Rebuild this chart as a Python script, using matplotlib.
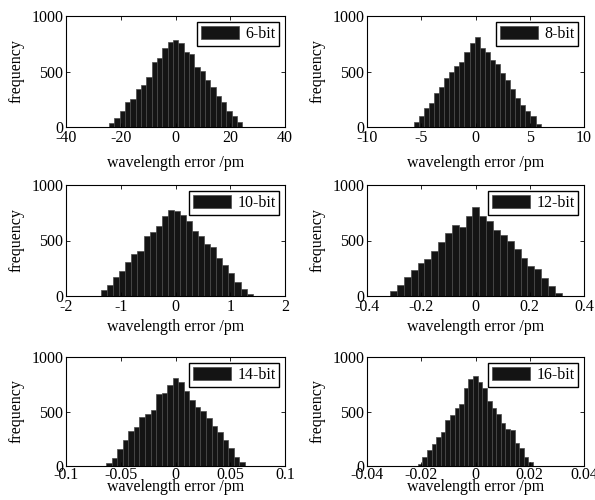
import numpy as np
import matplotlib
matplotlib.use("Agg")
import matplotlib.pyplot as plt

plt.rcParams['font.family'] = ['Liberation Serif', 'DejaVu Serif']
plt.rcParams['axes.unicode_minus'] = False
plt.rcParams['font.size'] = 11.5

labels = ["6-bit", "8-bit", "10-bit", "12-bit", "14-bit", "16-bit"]

# histogram bin ranges (pm) and counts per bin
range_6 = (-24.3, 24.4)
counts_6 = [33, 78, 147, 228, 255, 339, 381, 453, 588, 618, 708, 762, 783,
            753, 678, 657, 537, 501, 423, 363, 282, 222, 147, 102, 42]
range_8 = (-5.7, 6.0)
counts_8 = [48, 99, 171, 213, 303, 363, 438, 492, 552, 582, 672, 753, 813,
            708, 672, 606, 567, 489, 426, 342, 258, 201, 141, 102, 27]
range_10 = (-1.36, 1.41)
counts_10 = [57, 100, 168, 228, 303, 381, 402, 537, 576, 633, 717, 771, 762,
             726, 678, 588, 543, 471, 438, 342, 282, 207, 123, 63, 18]
range_12 = (-0.315, 0.318)
counts_12 = [42, 102, 168, 237, 297, 333, 402, 483, 567, 642, 621, 717, 798,
             717, 672, 591, 546, 492, 426, 342, 267, 243, 162, 87, 27]
range_14 = (-0.0633, 0.0633)
counts_14 = [28, 70, 156, 235, 321, 358, 453, 480, 514, 657, 673, 743, 804,
             774, 688, 605, 544, 505, 437, 367, 315, 239, 162, 86, 34]
range_16 = (-0.0213, 0.0212)
counts_16 = [21, 83, 144, 199, 269, 315, 419, 468, 529, 569, 719, 798, 829,
             768, 713, 596, 535, 474, 391, 339, 330, 208, 162, 86, 34]

xticks_6 = [-40, -20, 0, 20, 40]
xticklabels_6 = ["-40", "-20", "0", "20", "40"]
xticks_8 = [-10, -5, 0, 5, 10]
xticklabels_8 = ["-10", "-5", "0", "5", "10"]
xticks_10 = [-2, -1, 0, 1, 2]
xticklabels_10 = ["-2", "-1", "0", "1", "2"]
xticks_12 = [-0.4, -0.2, 0, 0.2, 0.4]
xticklabels_12 = ["-0.4", "-0.2", "0", "0.2", "0.4"]
xticks_14 = [-0.1, -0.05, 0, 0.05, 0.1]
xticklabels_14 = ["-0.1", "-0.05", "0", "0.05", "0.1"]
xticks_16 = [-0.04, -0.02, 0, 0.02, 0.04]
xticklabels_16 = ["-0.04", "-0.02", "0", "0.02", "0.04"]

yticks = [0, 500, 1000]
yticklabels = ["0", "500", "1000"]

panels = [
    (range_6, counts_6, xticks_6, xticklabels_6),
    (range_8, counts_8, xticks_8, xticklabels_8),
    (range_10, counts_10, xticks_10, xticklabels_10),
    (range_12, counts_12, xticks_12, xticklabels_12),
    (range_14, counts_14, xticks_14, xticklabels_14),
    (range_16, counts_16, xticks_16, xticklabels_16),
]

fig = plt.figure(figsize=(5.95, 5.0), dpi=100)

W, H = 595.0, 500.0
col_px = [(66, 285), (367, 584)]
row_px = [(16, 127), (185, 296), (357, 466)]
labelpads = [6, 3, -3]
xtickpads = [2.5, 2, 0.5]

for i, (rng, counts, xt, xtl) in enumerate(panels):
    r, c = divmod(i, 2)
    l, rr = col_px[c]
    t, b = row_px[r]
    ax = fig.add_axes([l / W, 1 - b / H, (rr - l) / W, (b - t) / H])
    n = len(counts)
    edges = np.linspace(rng[0], rng[1], n + 1)
    width = edges[1] - edges[0]
    centers = edges[:-1] + width / 2
    ax.bar(centers, counts, width=width, color='#141414', edgecolor='#4a4a4a',
           linewidth=0.5, label=labels[i])
    ax.set_xlim(xt[0], xt[-1])
    ax.set_ylim(0, 1000)
    ax.set_xticks(xt)
    ax.set_xticklabels(xtl)
    ax.set_yticks(yticks)
    ax.set_yticklabels(yticklabels)
    ax.tick_params(direction='in', top=True, right=True, length=3, width=0.6,
                   labelsize=11.5, pad=2)
    ax.tick_params(axis='x', pad=xtickpads[r])
    for s in ax.spines.values():
        s.set_linewidth(0.8)
    ax.set_xlabel("wavelength error /pm", fontsize=11.5, labelpad=labelpads[r])
    ax.set_ylabel("frequency", fontsize=11.5, labelpad=5)
    ax.legend(loc='upper right', handlelength=2.35, handleheight=0.9,
              fancybox=False, edgecolor='black', framealpha=1,
              borderpad=0.25, borderaxespad=0.35, handletextpad=0.4,
              fontsize=11.5)

fig.savefig("out.png", dpi=100)
